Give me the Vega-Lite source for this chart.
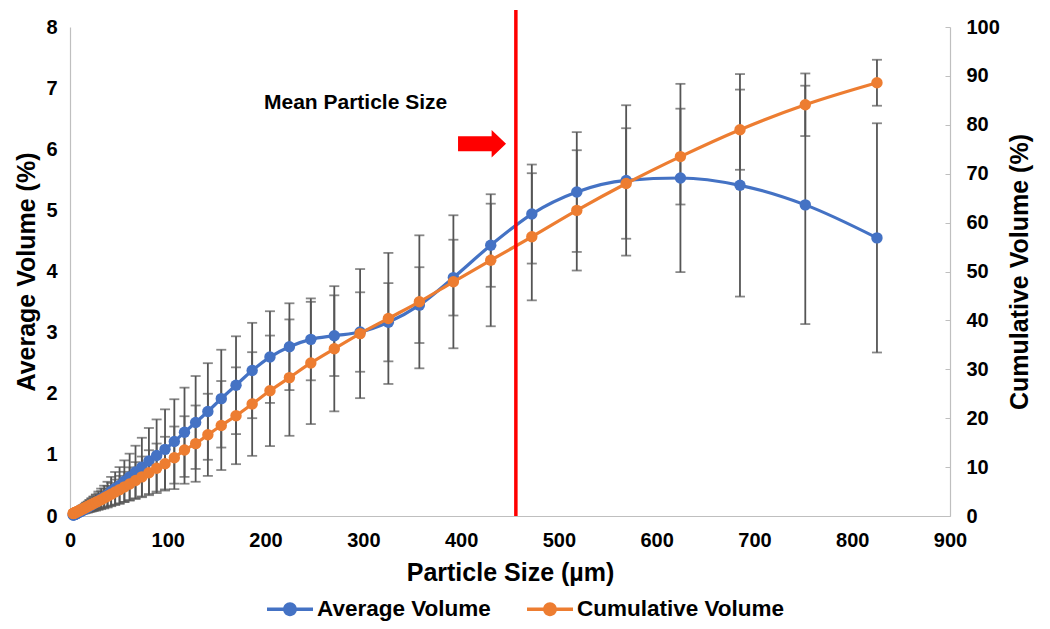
{
  "$schema": "https://vega.github.io/schema/vega-lite/v6.json",
  "width": 880,
  "height": 489,
  "autosize": {"type": "none"},
  "padding": {"left": 70, "top": 27, "right": 100, "bottom": 113},
  "background": "white",
  "config": {
    "view": {"stroke": null},
    "font": "Liberation Sans",
    "axisX": {
      "grid": false,
      "ticks": false,
      "labelFlush": false,
      "domainColor": "#BFBFBF",
      "domainWidth": 1.2,
      "labelFont": "Liberation Sans",
      "labelFontSize": 20,
      "labelFontWeight": "bold",
      "labelColor": "#000000",
      "labelPadding": 14,
      "titleFont": "Liberation Sans",
      "titleFontSize": 25,
      "titleFontWeight": "bold",
      "titleColor": "#000000",
      "titlePadding": 10
    },
    "legend": {
      "orient": "none",
      "legendX": 197,
      "legendY": 559,
      "direction": "horizontal",
      "title": null,
      "symbolType": "M-1,-0.075L1,-0.075L1,0.075L-1,0.075Z M0.3,0A0.3,0.3 0 1,1 -0.3,0A0.3,0.3 0 1,1 0.3,0Z",
      "symbolSize": 2116,
      "symbolStrokeWidth": 0,
      "symbolOpacity": 1,
      "labelFont": "Liberation Sans",
      "labelFontSize": 22.5,
      "labelFontWeight": "bold",
      "labelColor": "#000000",
      "labelOffset": 4,
      "columnPadding": 36,
      "labelLimit": 400
    }
  },
  "data": {
    "values": [
      {"particle": 3.2, "avg": 0.015, "avgErr": 0.009, "cum": 0.5, "cumErr": 0.26},
      {"particle": 3.5, "avg": 0.018, "avgErr": 0.011, "cum": 0.54, "cumErr": 0.28},
      {"particle": 3.8, "avg": 0.02, "avgErr": 0.012, "cum": 0.57, "cumErr": 0.3},
      {"particle": 4.2, "avg": 0.022, "avgErr": 0.013, "cum": 0.6, "cumErr": 0.31},
      {"particle": 4.6, "avg": 0.025, "avgErr": 0.015, "cum": 0.64, "cumErr": 0.33},
      {"particle": 5.0, "avg": 0.028, "avgErr": 0.017, "cum": 0.68, "cumErr": 0.35},
      {"particle": 5.5, "avg": 0.03, "avgErr": 0.018, "cum": 0.72, "cumErr": 0.37},
      {"particle": 6.0, "avg": 0.035, "avgErr": 0.021, "cum": 0.77, "cumErr": 0.4},
      {"particle": 6.6, "avg": 0.04, "avgErr": 0.024, "cum": 0.82, "cumErr": 0.43},
      {"particle": 7.2, "avg": 0.045, "avgErr": 0.027, "cum": 0.88, "cumErr": 0.46},
      {"particle": 7.9, "avg": 0.05, "avgErr": 0.03, "cum": 0.95, "cumErr": 0.49},
      {"particle": 8.7, "avg": 0.06, "avgErr": 0.036, "cum": 1.02, "cumErr": 0.53},
      {"particle": 9.6, "avg": 0.065, "avgErr": 0.039, "cum": 1.1, "cumErr": 0.57},
      {"particle": 10.5, "avg": 0.07, "avgErr": 0.042, "cum": 1.2, "cumErr": 0.62},
      {"particle": 11.5, "avg": 0.08, "avgErr": 0.048, "cum": 1.3, "cumErr": 0.68},
      {"particle": 12.6, "avg": 0.09, "avgErr": 0.054, "cum": 1.4, "cumErr": 0.73},
      {"particle": 13.8, "avg": 0.1, "avgErr": 0.06, "cum": 1.5, "cumErr": 0.78},
      {"particle": 15.1, "avg": 0.11, "avgErr": 0.066, "cum": 1.65, "cumErr": 0.86},
      {"particle": 16.6, "avg": 0.13, "avgErr": 0.078, "cum": 1.8, "cumErr": 0.94},
      {"particle": 18.2, "avg": 0.14, "avgErr": 0.084, "cum": 1.95, "cumErr": 1.01},
      {"particle": 20.0, "avg": 0.16, "avgErr": 0.096, "cum": 2.15, "cumErr": 1.12},
      {"particle": 22.0, "avg": 0.18, "avgErr": 0.108, "cum": 2.35, "cumErr": 1.22},
      {"particle": 24.1, "avg": 0.2, "avgErr": 0.12, "cum": 2.55, "cumErr": 1.33},
      {"particle": 26.5, "avg": 0.22, "avgErr": 0.132, "cum": 2.8, "cumErr": 1.46},
      {"particle": 29.1, "avg": 0.25, "avgErr": 0.15, "cum": 3.05, "cumErr": 1.59},
      {"particle": 31.9, "avg": 0.28, "avgErr": 0.168, "cum": 3.35, "cumErr": 1.74},
      {"particle": 35.0, "avg": 0.31, "avgErr": 0.186, "cum": 3.7, "cumErr": 1.92},
      {"particle": 38.4, "avg": 0.35, "avgErr": 0.21, "cum": 4.05, "cumErr": 2.11},
      {"particle": 42.1, "avg": 0.4, "avgErr": 0.24, "cum": 4.45, "cumErr": 2.31},
      {"particle": 46.2, "avg": 0.45, "avgErr": 0.27, "cum": 4.9, "cumErr": 2.55},
      {"particle": 50.7, "avg": 0.5, "avgErr": 0.3, "cum": 5.4, "cumErr": 2.81},
      {"particle": 55.6, "avg": 0.57, "avgErr": 0.34, "cum": 5.95, "cumErr": 3.09},
      {"particle": 61.0, "avg": 0.64, "avgErr": 0.38, "cum": 6.55, "cumErr": 3.41},
      {"particle": 67.0, "avg": 0.72, "avgErr": 0.43, "cum": 7.25, "cumErr": 3.77},
      {"particle": 73.5, "avg": 0.8, "avgErr": 0.48, "cum": 8.0, "cumErr": 4.16},
      {"particle": 80.7, "avg": 0.9, "avgErr": 0.54, "cum": 8.85, "cumErr": 4.6},
      {"particle": 88.6, "avg": 0.99, "avgErr": 0.59, "cum": 9.75, "cumErr": 5.07},
      {"particle": 97.2, "avg": 1.09, "avgErr": 0.655, "cum": 10.7, "cumErr": 5.5},
      {"particle": 106.7, "avg": 1.22, "avgErr": 0.69, "cum": 11.9, "cumErr": 6.4},
      {"particle": 117.1, "avg": 1.37, "avgErr": 0.73, "cum": 13.5, "cumErr": 6.9},
      {"particle": 128.5, "avg": 1.53, "avgErr": 0.76, "cum": 14.8, "cumErr": 7.8},
      {"particle": 141.0, "avg": 1.71, "avgErr": 0.79, "cum": 16.6, "cumErr": 8.4},
      {"particle": 154.7, "avg": 1.92, "avgErr": 0.8, "cum": 18.5, "cumErr": 9.1},
      {"particle": 169.8, "avg": 2.14, "avgErr": 0.8, "cum": 20.5, "cumErr": 9.9},
      {"particle": 186.3, "avg": 2.38, "avgErr": 0.78, "cum": 22.9, "cumErr": 10.6},
      {"particle": 204.5, "avg": 2.6, "avgErr": 0.75, "cum": 25.6, "cumErr": 11.3},
      {"particle": 224.4, "avg": 2.77, "avgErr": 0.71, "cum": 28.3, "cumErr": 11.9},
      {"particle": 246.3, "avg": 2.89, "avgErr": 0.67, "cum": 31.3, "cumErr": 12.5},
      {"particle": 270.3, "avg": 2.95, "avgErr": 0.66, "cum": 34.2, "cumErr": 12.8},
      {"particle": 296.7, "avg": 3.01, "avgErr": 0.65, "cum": 37.3, "cumErr": 13.2},
      {"particle": 325.6, "avg": 3.17, "avgErr": 0.64, "cum": 40.4, "cumErr": 13.4},
      {"particle": 357.3, "avg": 3.45, "avgErr": 0.62, "cum": 43.8, "cumErr": 13.6},
      {"particle": 392.1, "avg": 3.9, "avgErr": 0.62, "cum": 47.9, "cumErr": 13.6},
      {"particle": 430.3, "avg": 4.43, "avgErr": 0.68, "cum": 52.3, "cumErr": 13.5},
      {"particle": 472.3, "avg": 4.94, "avgErr": 0.81, "cum": 57.1, "cumErr": 13.0},
      {"particle": 518.3, "avg": 5.3, "avgErr": 0.98, "cum": 62.5, "cumErr": 12.3},
      {"particle": 568.8, "avg": 5.49, "avgErr": 1.23, "cum": 68.0, "cumErr": 11.3},
      {"particle": 624.3, "avg": 5.53, "avgErr": 1.54, "cum": 73.5, "cumErr": 9.8},
      {"particle": 685.2, "avg": 5.41, "avgErr": 1.82, "cum": 79.0, "cumErr": 8.2},
      {"particle": 752.0, "avg": 5.09, "avgErr": 1.95, "cum": 84.1, "cumErr": 6.4},
      {"particle": 825.3, "avg": 4.55, "avgErr": 1.875, "cum": 88.6, "cumErr": 4.7}
    ]
  },
  "layer": [
    {
      "mark": {"type": "errorbar", "color": "#555555", "thickness": 1.8, "ticks": {"size": 10, "thickness": 1.8}},
      "encoding": {
        "x": {
          "field": "particle",
          "type": "quantitative",
          "scale": {"domain": [0, 900], "nice": false},
          "axis": {"values": [0, 100, 200, 300, 400, 500, 600, 700, 800, 900], "title": "Particle Size (µm)"}
        },
        "y": {
          "field": "avg",
          "type": "quantitative",
          "scale": {"domain": [0, 8], "nice": false},
          "axis": {
            "orient": "left",
            "values": [0, 1, 2, 3, 4, 5, 6, 7, 8],
            "grid": false,
            "ticks": false,
            "domainColor": "#BFBFBF",
            "domainWidth": 1.2,
            "labelFont": "Liberation Sans",
            "labelFontSize": 20,
            "labelFontWeight": "bold",
            "labelColor": "#000000",
            "labelPadding": 13,
            "title": "Average Volume (%)",
            "titleFont": "Liberation Sans",
            "titleFontSize": 25,
            "titleFontWeight": "bold",
            "titleColor": "#000000",
            "titlePadding": 6
          }
        },
        "yError": {"field": "avgErr"}
      }
    },
    {
      "mark": {"type": "errorbar", "color": "#555555", "thickness": 1.8, "ticks": {"size": 10, "thickness": 1.8}},
      "encoding": {
        "x": {
          "field": "particle",
          "type": "quantitative",
          "scale": {"domain": [0, 900], "nice": false},
          "axis": {"values": [0, 100, 200, 300, 400, 500, 600, 700, 800, 900], "title": "Particle Size (µm)"}
        },
        "y": {
          "field": "cum",
          "type": "quantitative",
          "scale": {"domain": [0, 100], "nice": false},
          "axis": {
            "orient": "right",
            "values": [0, 10, 20, 30, 40, 50, 60, 70, 80, 90, 100],
            "grid": false,
            "ticks": true,
            "tickSize": -5,
            "tickColor": "#BFBFBF",
            "domainColor": "#BFBFBF",
            "domainWidth": 1.2,
            "labelFont": "Liberation Sans",
            "labelFontSize": 20,
            "labelFontWeight": "bold",
            "labelColor": "#000000",
            "labelPadding": 21,
            "title": "Cumulative Volume (%)",
            "titleFont": "Liberation Sans",
            "titleFontSize": 25,
            "titleFontWeight": "bold",
            "titleColor": "#000000",
            "titleAngle": 270,
            "titleBaseline": "top",
            "titlePadding": 8
          }
        },
        "yError": {"field": "cumErr"}
      }
    },
    {
      "mark": {"type": "line", "color": "#4472C4", "strokeWidth": 3.2, "interpolate": "monotone"},
      "encoding": {
        "x": {
          "field": "particle",
          "type": "quantitative",
          "scale": {"domain": [0, 900], "nice": false},
          "axis": {"values": [0, 100, 200, 300, 400, 500, 600, 700, 800, 900], "title": "Particle Size (µm)"}
        },
        "y": {"field": "avg", "type": "quantitative", "scale": {"domain": [0, 8], "nice": false}, "axis": null}
      }
    },
    {
      "mark": {"type": "point", "filled": true, "opacity": 1, "size": 130, "shape": "circle"},
      "encoding": {
        "x": {
          "field": "particle",
          "type": "quantitative",
          "scale": {"domain": [0, 900], "nice": false},
          "axis": {"values": [0, 100, 200, 300, 400, 500, 600, 700, 800, 900], "title": "Particle Size (µm)"}
        },
        "y": {"field": "avg", "type": "quantitative", "scale": {"domain": [0, 8], "nice": false}, "axis": null},
        "color": {
          "datum": "Average Volume",
          "type": "nominal",
          "scale": {"domain": ["Average Volume", "Cumulative Volume"], "range": ["#4472C4", "#ED7D31"]}
        }
      }
    },
    {
      "mark": {"type": "line", "color": "#ED7D31", "strokeWidth": 3.2, "interpolate": "monotone"},
      "encoding": {
        "x": {
          "field": "particle",
          "type": "quantitative",
          "scale": {"domain": [0, 900], "nice": false},
          "axis": {"values": [0, 100, 200, 300, 400, 500, 600, 700, 800, 900], "title": "Particle Size (µm)"}
        },
        "y": {"field": "cum", "type": "quantitative", "scale": {"domain": [0, 100], "nice": false}, "axis": null}
      }
    },
    {
      "mark": {"type": "point", "filled": true, "opacity": 1, "size": 130, "shape": "circle"},
      "encoding": {
        "x": {
          "field": "particle",
          "type": "quantitative",
          "scale": {"domain": [0, 900], "nice": false},
          "axis": {"values": [0, 100, 200, 300, 400, 500, 600, 700, 800, 900], "title": "Particle Size (µm)"}
        },
        "y": {"field": "cum", "type": "quantitative", "scale": {"domain": [0, 100], "nice": false}, "axis": null},
        "color": {"datum": "Cumulative Volume", "type": "nominal"}
      }
    },
    {
      "data": {"values": [{"meanSize": 456}]},
      "mark": {"type": "rule", "color": "#FF0000", "strokeWidth": 3.5},
      "encoding": {
        "x": {
          "field": "meanSize",
          "type": "quantitative",
          "scale": {"domain": [0, 900], "nice": false},
          "axis": {"values": [0, 100, 200, 300, 400, 500, 600, 700, 800, 900], "title": "Particle Size (µm)"}
        },
        "y": {"datum": 0, "type": "quantitative", "scale": {"domain": [0, 8], "nice": false}, "axis": null},
        "y2": {"datum": 8.28}
      }
    },
    {
      "data": {"values": [{"label": "Mean Particle Size"}]},
      "mark": {"type": "text", "align": "left", "baseline": "middle", "font": "Liberation Sans", "fontSize": 21, "fontWeight": "bold", "color": "#000000"},
      "encoding": {
        "x": {
          "datum": 198.4,
          "type": "quantitative",
          "scale": {"domain": [0, 900], "nice": false},
          "axis": {"values": [0, 100, 200, 300, 400, 500, 600, 700, 800, 900], "title": "Particle Size (µm)"}
        },
        "y": {"datum": 6.76, "type": "quantitative", "scale": {"domain": [0, 8], "nice": false}, "axis": null},
        "text": {"field": "label"}
      }
    },
    {
      "data": {"values": [{"marker": "arrow"}]},
      "mark": {"type": "point", "filled": true, "opacity": 1, "color": "#FF0000", "size": 2304, "strokeWidth": 0, "shape": "M-1,-0.31L0.4,-0.31L0.4,-0.57L1,0L0.4,0.57L0.4,0.31L-1,0.31Z"},
      "encoding": {
        "x": {
          "datum": 421.4,
          "type": "quantitative",
          "scale": {"domain": [0, 900], "nice": false},
          "axis": {"values": [0, 100, 200, 300, 400, 500, 600, 700, 800, 900], "title": "Particle Size (µm)"}
        },
        "y": {"datum": 6.09, "type": "quantitative", "scale": {"domain": [0, 8], "nice": false}, "axis": null}
      }
    }
  ],
  "resolve": {"scale": {"y": "independent"}}
}
